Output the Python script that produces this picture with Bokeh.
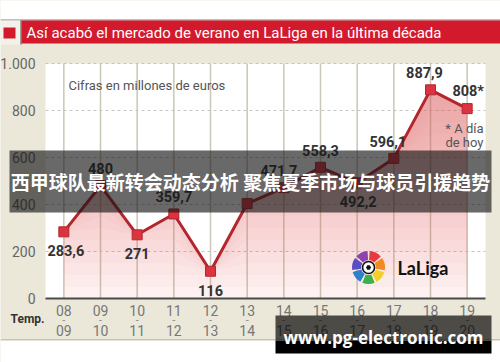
import numpy as np
from bokeh.plotting import figure
from bokeh.models import ColumnDataSource, FixedTicker, BoxAnnotation, Label, Range1d
from bokeh.embed import file_html
from bokeh.resources import INLINE
from bokeh.core.properties import value

# ---------------- data ----------------
seasons = ["08-09", "09-10", "10-11", "11-12", "12-13", "13-14",
           "14-15", "15-16", "16-17", "17-18", "18-19", "19-20"]
spend = [283.6, 480, 271, 359.7, 116, 404, 471.7, 558.3, 492.2, 596.1, 887.9, 808]
value_labels = ["283,6", "480", "271", "359,7", "116", "",
                "471,7", "558,3", "492,2", "596,1", "887,9", "808*"]
y_ticks = [0, 200, 400, 600, 800, 1000]
y_tick_labels = ["0", "200", "400", "600", "800", "1.000"]

# ---------------- layout (canvas pixels) ----------------
W, H = 500, 362
PL, PR, PT, PB = 45, 485, 63, 298          # plot area inside the canvas
x0, x1 = -0.5, len(seasons) - 0.5
y0, y1 = 0, 1000
kx = (PR - PL) / (x1 - x0)
ky = (PB - PT) / (y1 - y0)
xr = Range1d(x0 - PL / kx, x1 + (W - PR) / kx)
yr = Range1d(y0 - (H - PB) / ky, y1 + PT / ky)

BEIGE = "#ebe8da"
p = figure(width=W, height=H, x_range=xr, y_range=yr, min_border=0,
           output_backend="svg", toolbar_location=None)
p.title.visible = False
p.background_fill_color = BEIGE
p.border_fill_color = BEIGE
p.outline_line_color = None
p.xgrid.visible = False
p.ygrid.visible = False

xs = np.arange(len(seasons))
v = np.array(spend, dtype=float)

# white plotting area
p.add_layout(BoxAnnotation(left=x0, right=x1, bottom=y0, top=y1, fill_color="white",
                           fill_alpha=1, line_color=None, level="underlay"))

# axes drawn at fixed positions inside the canvas
tick_labels = {int(i): s.replace("-", "\n") for i, s in zip(xs, seasons)}
p.xaxis.fixed_location = y0
p.xaxis.bounds = (x0, x1)
p.xaxis.ticker = FixedTicker(ticks=list(xs))
p.xaxis.major_label_overrides = tick_labels
p.xaxis.major_tick_line_color = None
p.xaxis.minor_tick_line_color = None
p.xaxis.axis_line_color = "#4a4a4a"
p.xaxis.axis_line_width = 2
p.xaxis.major_label_text_font = "Roboto"
p.xaxis.major_label_text_font_size = "14px"
p.xaxis.major_label_text_color = "#777777"
p.xaxis.major_label_text_line_height = 1.3
p.xaxis.major_label_standoff = -2

p.yaxis.fixed_location = x0
p.yaxis.ticker = FixedTicker(ticks=y_ticks)
p.yaxis.major_label_overrides = {t: s for t, s in zip(y_ticks, y_tick_labels)}
p.yaxis.major_tick_line_color = None
p.yaxis.minor_tick_line_color = None
p.yaxis.axis_line_color = None
p.yaxis.major_label_text_font = "Roboto"
p.yaxis.major_label_text_font_size = "14px"
p.yaxis.major_label_text_color = "#666666"
p.yaxis.major_label_standoff = 4

# small dashes between the two years of each season label
p.text(x=xs, y=[y0] * len(xs), text=["-"] * len(xs), y_offset=21,
       text_align="center", text_baseline="middle", text_font=value("Roboto"),
       text_font_size="11px", text_color="#888888")

# grid lines inside the plotting area
p.segment(x0=xs, y0=[y0] * len(xs), x1=xs, y1=[y1] * len(xs),
          line_color="#cbc7b6", line_width=1.5)
p.segment(x0=[x0] * len(y_ticks[1:]), y0=y_ticks[1:], x1=[x1] * len(y_ticks[1:]),
          y1=y_ticks[1:], line_color="#c4c4c4", line_width=1, line_dash="3 3")

# gradient area under the line (stacked translucent layers)
AREA = "#f06a60"
p.varea(x=xs, y1=0, y2=v, fill_color=AREA, fill_alpha=0.05)
for t in range(0, 900, 50):
    p.varea(x=xs, y1=np.minimum(v, t), y2=v, fill_color=AREA, fill_alpha=0.04)

# line + markers
p.line(xs, v, line_color="#b3262e", line_width=3)
p.scatter(xs, v, marker="square", size=10, fill_color="#dc3340",
          line_color="#b3262e", line_width=1)

# value labels
place = ["below", "above", "below", "above", "below", "below",
         "above", "above", "below", "above", "above", "above"]
dx = [2, 0, 0, 0, 0, 0, -5, 0, 1, -6, -6, 1]
dy = [19 if pl == "below" else -17 for pl in place]
src = ColumnDataSource(dict(x=xs, y=v, text=value_labels, dx=dx, dy=dy))
p.text(x="x", y="y", text="text", x_offset="dx", y_offset="dy", source=src,
       text_align="center", text_baseline="middle", text_font=value("Roboto"),
       text_font_size="14.5px", text_font_style="bold", text_color="#333333")

# LaLiga logo (decorative)
lx, ly = 8.31, 132
centers = [64, 12.6, -38.9, -90.3, -141.7, -193.1, 115.4]
colors = ["#e63a3f", "#f28a22", "#f4cf2b", "#3cb04a", "#2f82c9", "#5a4fc2", "#8b45ad"]
for c, col in zip(centers, colors):
    p.annular_wedge(x=lx, y=ly, inner_radius=7.5, outer_radius=16.5,
                    inner_radius_units="screen", outer_radius_units="screen",
                    start_angle=np.radians(c - 22), end_angle=np.radians(c + 22),
                    fill_color=col, line_color=None)
p.scatter(x=[lx], y=[ly], marker="circle", size=12, fill_color="white",
          line_color="#111111", line_width=1.6)
p.scatter(x=[lx], y=[ly], marker="hex", size=5, fill_color="#111111", line_color=None)


def box(l, r, t, b, color, alpha=1.0):
    p.add_layout(BoxAnnotation(left=l, right=r, top=t, bottom=b,
                               left_units="canvas", right_units="canvas",
                               top_units="canvas", bottom_units="canvas",
                               fill_color=color, fill_alpha=alpha,
                               line_color=None, level="annotation"))


def label(x, y, text, size, color, font="Roboto", style="normal", align="left"):
    p.add_layout(Label(x=x, y=y, x_units="canvas", y_units="canvas", text=text,
                       text_font=font, text_font_size=size, text_color=color,
                       text_font_style=style, text_align=align, text_baseline="middle"))


# header
box(0, W, 0, 19, "white")
box(0, W, 19, 20, "#8a8a8a")
box(0, 20, 20, 44, "#f3f1ea")
box(20, 21, 20, 44, "#555555")
box(21, W, 20, 43, "#d31a2d")
box(3, 15, 27, 38, "#d31a2d")
label(26, 32, "Así acabó el mercado de verano en LaLiga en la última década",
      "15px", "white")

# bottom strip
box(0, W, 339, 340, "#a09d90")
box(0, W, 340, H, "white")

# in-plot texts
label(68, 85, "Cifras en millones de euros", "13px", "#555555")
label(483, 128, "* A día", "13px", "#555555", align="right")
label(483, 142, "de hoy", "13px", "#555555", align="right")
label(27, 318, "Temp.", "12px", "#333333", style="bold", align="center")
label(397, 267, "LaLiga", "18px", "#111111", font="Lato", style="bold")

# overlay banner
box(9, 491, 150, 212, "#151515", 0.64)
label(250, 181, "西甲球队最新转会动态分析 聚焦夏季市场与球员引援趋势", "19px", "white",
      font="Noto Sans CJK SC", style="bold", align="center")

# watermark
box(275, 491, 315, 340, "#000000", 0.68)
box(275, 491, 340, 353, "#000000", 1.0)
label(383, 337, "www.pg-electronic.com", "17px", "white", font="Open Sans",
      style="bold", align="center")

open("out.html", "w").write(file_html(p, INLINE))
